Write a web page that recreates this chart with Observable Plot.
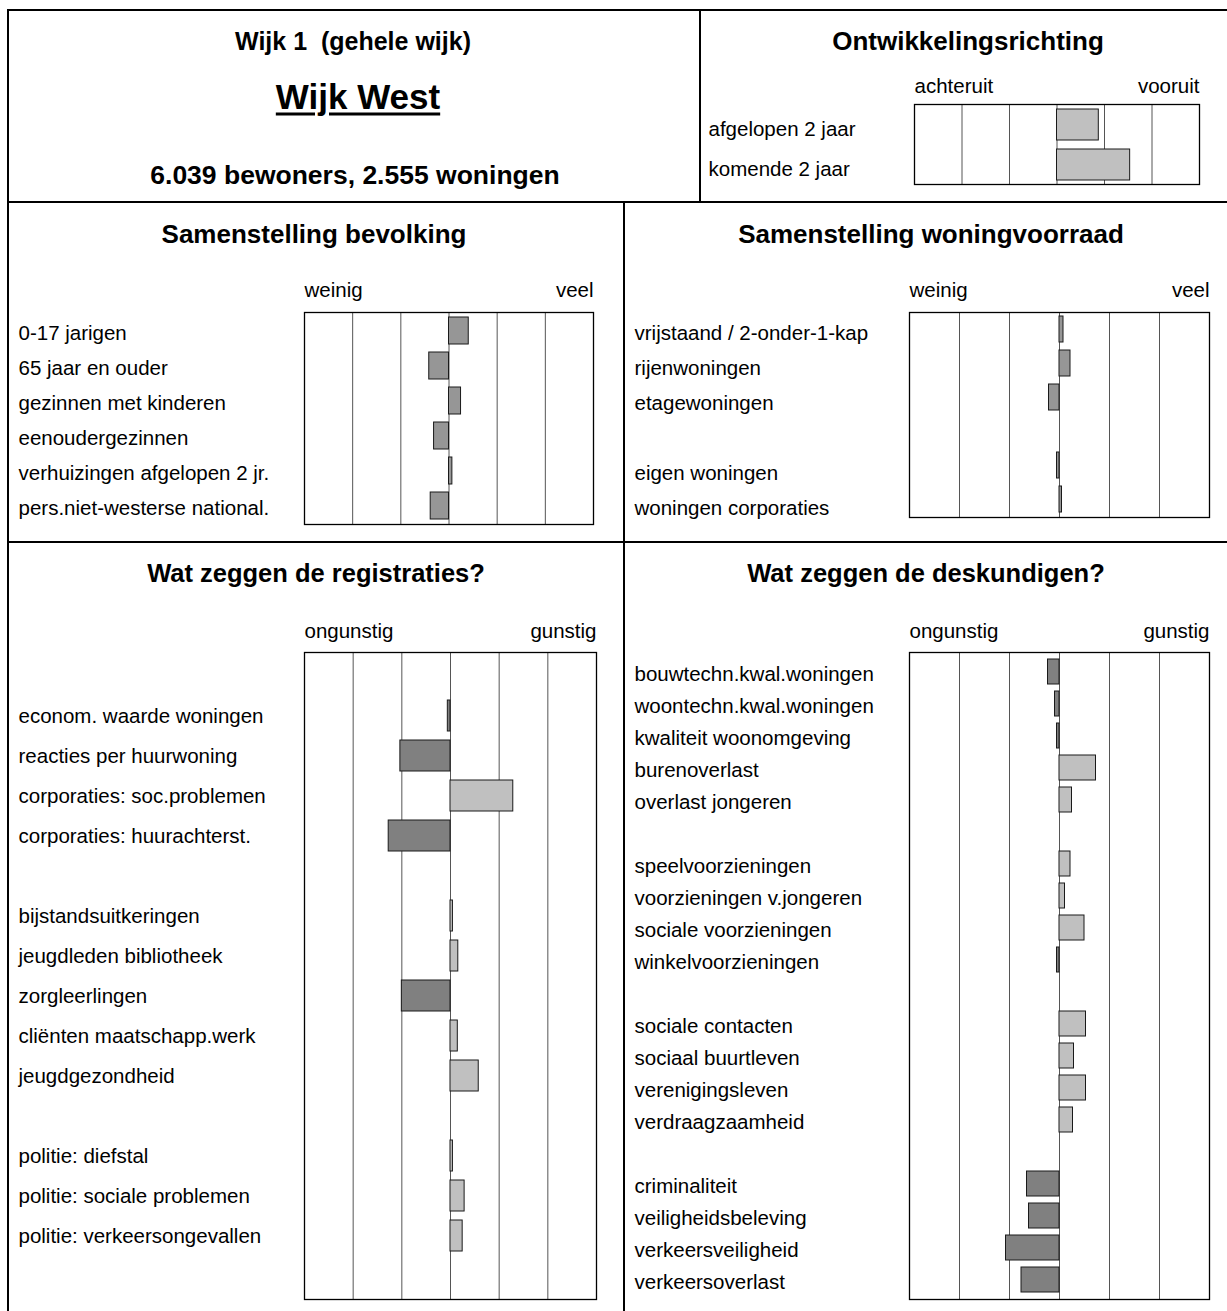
<!DOCTYPE html>
<html>
<head>
<meta charset="utf-8">
<script src="https://cdn.jsdelivr.net/npm/d3@7"></script>
<script src="https://cdn.jsdelivr.net/npm/@observablehq/plot@0.6"></script>
<style>
  html, body { margin: 0; padding: 0; background: #fff; }
  #page { position: relative; width: 1227px; height: 1311px; overflow: hidden; font-family: "Liberation Sans", Arial, sans-serif; color: #000; }
  .line { position: absolute; background: #000; }
  .t { position: absolute; white-space: pre; transform: translate(-50%, -50%); font-weight: bold; line-height: 1; }
  .chart { position: absolute; }
  .chart svg { display: block; overflow: visible; }
  .chart svg + svg { position: absolute; left: 0; top: 0; }
</style>
</head>
<body>
<div id="page">
  <div class="line" style="left:7px;top:9px;width:2px;height:1302px"></div>
  <div class="line" style="left:7px;top:9px;width:1220px;height:2px"></div>
  <div class="line" style="left:7px;top:201px;width:1220px;height:2px"></div>
  <div class="line" style="left:7px;top:541px;width:1220px;height:2px"></div>
  <div class="line" style="left:699px;top:10px;width:2px;height:192px"></div>
  <div class="line" style="left:623px;top:202px;width:2px;height:1109px"></div>

  <div class="t" style="left:353px;top:41px;font-size:25px">Wijk 1  (gehele wijk)</div>
  <div class="t" style="left:358px;top:96px;font-size:35px;text-decoration:underline;text-decoration-thickness:3px;text-underline-offset:4px">Wijk West</div>
  <div class="t" style="left:355px;top:175px;font-size:26.5px">6.039 bewoners, 2.555 woningen</div>
  <div class="t" style="left:968px;top:41px;font-size:26px">Ontwikkelingsrichting</div>
  <div class="t" style="left:314px;top:234px;font-size:26px">Samenstelling bevolking</div>
  <div class="t" style="left:931px;top:234px;font-size:26px">Samenstelling woningvoorraad</div>
  <div class="t" style="left:316px;top:574px;font-size:25.5px">Wat zeggen de registraties?</div>
  <div class="t" style="left:926px;top:574px;font-size:25.5px">Wat zeggen de deskundigen?</div>

  <div class="chart" id="ontw" style="left:700px;top:60px"></div>
  <div class="chart" id="bev" style="left:8px;top:262px"></div>
  <div class="chart" id="won" style="left:624px;top:262px"></div>
  <div class="chart" id="reg" style="left:8px;top:600px"></div>
  <div class="chart" id="desk" style="left:624px;top:600px"></div>
</div>
<script>
// ---------- data ----------
const ontwLabels = ["afgelopen 2 jaar", "komende 2 jaar"];
const ontwValues = [0.88, 1.54];
const ontwWords = ["achteruit", "vooruit"];

const bevLabels = ["0-17 jarigen", "65 jaar en ouder", "gezinnen met kinderen", "eenoudergezinnen", "verhuizingen afgelopen 2 jr.", "pers.niet-westerse national."];
const bevValues = [0.41, -0.41, 0.25, -0.31, 0.07, -0.38];

const wonLabels = ["vrijstaand / 2-onder-1-kap", "rijenwoningen", "etagewoningen", "", "eigen woningen", "woningen corporaties"];
const wonValues = [0.08, 0.22, -0.21, null, -0.05, 0.05];
const amountWords = ["weinig", "veel"];

const regLabels = ["", "econom. waarde woningen", "reacties per huurwoning", "corporaties: soc.problemen", "corporaties: huurachterst.", "",
  "bijstandsuitkeringen", "jeugdleden bibliotheek", "zorgleerlingen", "cliënten maatschapp.werk", "jeugdgezondheid", "",
  "politie: diefstal", "politie: sociale problemen", "politie: verkeersongevallen", ""];
const regValues = [null, -0.055, -1.03, 1.29, -1.27, null, 0.05, 0.16, -1.0, 0.15, 0.58, null, 0.05, 0.29, 0.25, null];

const deskLabels = ["bouwtechn.kwal.woningen", "woontechn.kwal.woningen", "kwaliteit woonomgeving", "burenoverlast", "overlast jongeren", "",
  "speelvoorzieningen", "voorzieningen v.jongeren", "sociale voorzieningen", "winkelvoorzieningen", "",
  "sociale contacten", "sociaal buurtleven", "verenigingsleven", "verdraagzaamheid", "",
  "criminaliteit", "veiligheidsbeleving", "verkeersveiligheid", "verkeersoverlast"];
const deskValues = [-0.23, -0.09, -0.05, 0.73, 0.25, null, 0.22, 0.11, 0.5, -0.05, null, 0.53, 0.29, 0.53, 0.27, null, -0.65, -0.61, -1.07, -0.76];
const judgeWords = ["ongunstig", "gunstig"];

const scaleDomain = [-3, 3];
const gridTicks = [-2, -1, 0, 1, 2];

// ---------- drawing ----------
const FONT = "'Liberation Sans', Arial, sans-serif";
const LIGHT = "#c0c0c0", MID = "#969696", DARK = "#808080";
const signFill = d => d.value < 0 ? DARK : LIGHT;
const LABEL_SIZE = 20.5;

function labelMarks(rows, o) {
  return Plot.text(rows, {y: "i", text: "label", frameAnchor: "left", textAnchor: "start",
    lineAnchor: "middle", dx: o.labelDx, dy: o.labelDy, fontSize: LABEL_SIZE});
}

function panelChart(o) {
  const rows = o.labels.map((label, i) => ({i, label, value: o.values[i]}));
  const bars = rows.filter(d => d.value != null);
  const common = {
    width: o.width, height: o.height, marginLeft: o.ml, marginRight: o.mr,
    style: {fontFamily: FONT, fontSize: LABEL_SIZE + "px", background: "none", overflow: "visible"},
    x: {domain: scaleDomain, axis: null},
    color: {type: "identity"}
  };
  const separateLabels = o.labelMt != null;
  const main = Plot.plot({
    ...common,
    marginTop: o.mt, marginBottom: o.mb,
    y: {domain: d3.range(rows.length), axis: null, paddingInner: o.pad, paddingOuter: o.pad / 2},
    marks: [
      Plot.ruleX(gridTicks, {stroke: "#555", strokeWidth: 1}),
      Plot.barX(bars, {x1: 0, x2: "value", y: "i", fill: o.fill, stroke: "#1a1a1a", strokeWidth: 1}),
      Plot.frame({stroke: "#000", strokeWidth: 1.3}),
      separateLabels ? null : labelMarks(rows, o),
      Plot.text([o.words[0]], {text: d => d, frameAnchor: "top-left", textAnchor: "start", lineAnchor: "middle", dy: o.wordDy, fontSize: LABEL_SIZE}),
      Plot.text([o.words[1]], {text: d => d, frameAnchor: "top-right", textAnchor: "end", lineAnchor: "middle", dy: o.wordDy, fontSize: LABEL_SIZE})
    ]
  });
  if (!separateLabels) return [main];
  const labels = Plot.plot({
    ...common,
    marginTop: o.labelMt, marginBottom: o.labelMb,
    y: {domain: d3.range(rows.length), axis: null, paddingInner: o.pad, paddingOuter: o.pad / 2},
    marks: [labelMarks(rows, o)]
  });
  return [main, labels];
}

document.getElementById("ontw").append(...panelChart({
  labels: ontwLabels, values: ontwValues, words: ontwWords, fill: LIGHT,
  width: 527, height: 142, ml: 214, mr: 28, mt: 44, mb: 18, pad: 0.225, labelDx: -206, labelDy: 4, wordDy: -18
}));
document.getElementById("bev").append(...panelChart({
  labels: bevLabels, values: bevValues, words: amountWords, fill: MID,
  width: 616, height: 280, ml: 296, mr: 31, mt: 50, mb: 18, pad: 0.235, labelDx: -286, labelDy: 2, wordDy: -22
}));
document.getElementById("won").append(...panelChart({
  labels: wonLabels, values: wonValues, words: amountWords, fill: MID,
  width: 603, height: 280, ml: 285, mr: 18, mt: 50, mb: 25, pad: 0.235, labelDx: -275, labelDy: 2, wordDy: -22,
  labelMt: 50, labelMb: 18
}));
document.getElementById("reg").append(...panelChart({
  labels: regLabels, values: regValues, words: judgeWords, fill: signFill,
  width: 616, height: 711, ml: 296, mr: 28, mt: 52, mb: 12, pad: 0.23, labelDx: -286, labelDy: 0, wordDy: -21
}));
document.getElementById("desk").append(...panelChart({
  labels: deskLabels, values: deskValues, words: judgeWords, fill: signFill,
  width: 603, height: 711, ml: 285, mr: 18, mt: 52, mb: 12, pad: 0.23, labelDx: -275, labelDy: 2, wordDy: -21
}));
</script>
</body>
</html>
